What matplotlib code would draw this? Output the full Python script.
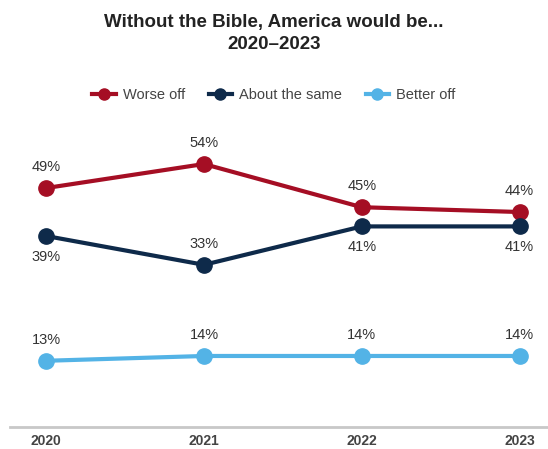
import matplotlib.pyplot as plt
from matplotlib.lines import Line2D

plt.rcParams['font.family'] = ['Liberation Sans', 'DejaVu Sans']

years = [2020, 2021, 2022, 2023]
worse_off = [49, 54, 45, 44]
about_same = [39, 33, 41, 41]
better_off = [13, 14, 14, 14]

series_names = ['Worse off', 'About the same', 'Better off']
series_colors = ['#A50E24', '#0E2A4A', '#53B3E6']
# label position for each point: 1 above, -1 below
label_side = [
    [1, 1, 1, 1],
    [-1, 1, -1, -1],
    [1, 1, 1, 1],
]

fig = plt.figure(figsize=(5.48, 4.49), dpi=100)
ax = fig.add_axes([0.018, 0.049, 0.982, 0.684])

for vals, color, sides in zip([worse_off, about_same, better_off], series_colors, label_side):
    ax.plot(years, vals, color=color, linewidth=3, marker='o', markersize=11,
            solid_capstyle='butt', clip_on=False, zorder=3)
    for x, v, s in zip(years, vals, sides):
        ax.annotate(f'{v}%', (x, v), xytext=(0, 15 * s), textcoords='offset points',
                    ha='center', va='center', fontsize=10.5, color='#333333')

ax.set_xlim(2019.77, 2023.18)
ax.set_ylim(-0.8, 63.2)
ax.set_xticks(years)
ax.set_xticklabels([str(y) for y in years], fontsize=10, fontweight='bold', color='#444444')
ax.tick_params(axis='x', length=0, pad=5)
ax.set_yticks([])
for side in ['top', 'right', 'left']:
    ax.spines[side].set_visible(False)
ax.spines['bottom'].set_color('#C8C8C8')
ax.spines['bottom'].set_linewidth(2)

fig.text(0.5, 0.926, 'Without the Bible, America would be...\n2020\u20132023',
         ha='center', va='center', fontsize=13.5, fontweight='bold', color='#222222',
         linespacing=1.35)

handles = [Line2D([0], [0], color=c, linewidth=3, marker='o', markersize=8) for c in series_colors]
fig.legend(handles, series_names, loc='center', bbox_to_anchor=(0.5, 0.788), ncol=3,
           frameon=False, handlelength=1.6, handletextpad=0.5,
           columnspacing=1.6, labelcolor='#444444', fontsize=10.5)

fig.savefig('out.png', dpi=100)
